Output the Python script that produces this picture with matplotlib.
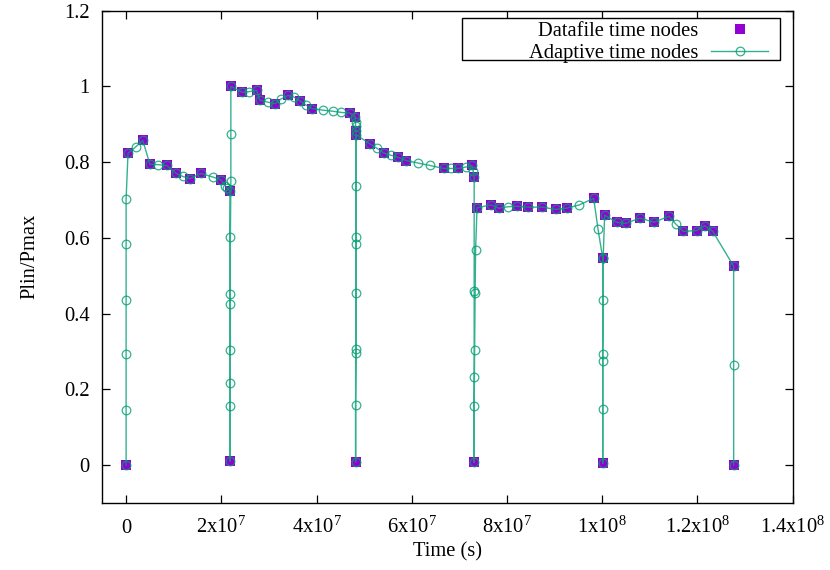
import numpy as np
import matplotlib
matplotlib.use("Agg")
import matplotlib.pyplot as plt
from matplotlib.patches import Rectangle

# ---- data (time in units of 1e6 s) ----
datafile_time_Ms = [0, 0.4, 3.5, 5.0, 8.5, 10.5, 13.4, 15.7, 19.9, 21.8, 21.8, 22.0,
                    24.4, 27.4, 28.1, 31.3, 34.0, 36.5, 39.1, 47.0, 48.1, 48.3, 48.2, 48.3,
                    51.2, 54.1, 57.0, 58.8, 66.7, 69.8, 72.6, 73.1, 73.1, 73.7,
                    76.6, 78.3, 82.1, 84.4, 87.4, 90.2, 92.5, 98.2, 100.1, 100.1, 100.5,
                    103.0, 104.9, 107.9, 110.9, 114.0, 117.0, 119.8, 121.5, 123.2, 127.6, 127.6]
datafile_plin = [0.0, 0.823, 0.857, 0.794, 0.791, 0.770, 0.756, 0.770, 0.753, 0.723, 0.011, 1.000,
                 0.984, 0.989, 0.963, 0.954, 0.976, 0.962, 0.941, 0.929, 0.920, 0.883, 0.009, 0.872,
                 0.848, 0.824, 0.813, 0.804, 0.783, 0.783, 0.791, 0.760, 0.007, 0.679,
                 0.687, 0.678, 0.683, 0.681, 0.681, 0.675, 0.678, 0.704, 0.546, 0.005, 0.660,
                 0.641, 0.638, 0.652, 0.641, 0.657, 0.617, 0.619, 0.632, 0.617, 0.525, 0.0]

adaptive_time_Ms = [0, 0, 0, 0, 0, 0, 0.4, 2.1, 3.5, 5.0, 6.8, 8.5, 10.5, 11.9, 13.4, 15.7, 18.3,
                    19.9, 20.8, 21.2, 21.8,
                    21.8, 21.8, 21.8,
                    21.8, 21.9, 21.9, 21.9, 22.0, 22.0, 22.0,
                    24.4, 25.9, 27.4, 28.1, 29.8, 31.3, 32.6, 34.0, 35.3, 36.5, 37.7, 39.1,
                    41.3, 43.5, 45.2, 47.0, 48.1, 48.2, 48.2, 48.3,
                    48.3, 48.2, 48.2,
                    48.2, 48.3, 48.3, 48.3, 48.3, 48.3,
                    51.2, 52.6, 54.1, 55.6, 57.0, 58.8, 61.4, 63.8, 66.7, 68.2, 69.8, 71.4,
                    72.6, 72.9, 73.1,
                    73.1, 73.1, 73.1,
                    73.1, 73.2, 73.3, 73.4, 73.7,
                    76.6, 78.3, 80.2, 82.1, 84.4, 87.4, 90.2, 92.5, 95.2, 98.2, 99.1, 100.1,
                    100.1, 100.1,
                    100.1, 100.1, 100.2, 100.2, 100.5,
                    103.0, 104.9, 107.9, 110.9, 114.0, 115.4, 117.0, 119.8, 121.5, 123.2,
                    127.6, 127.6, 127.6]
adaptive_plin = [0.0, 0.145, 0.292, 0.437, 0.584, 0.703, 0.823, 0.841, 0.857, 0.794, 0.793, 0.791,
                 0.770, 0.762, 0.756, 0.770, 0.760, 0.753, 0.738, 0.731, 0.723,
                 0.424, 0.217, 0.011,
                 0.157, 0.305, 0.452, 0.601, 0.749, 0.874, 1.000,
                 0.984, 0.986, 0.989, 0.963, 0.958, 0.954, 0.967, 0.976, 0.971, 0.962, 0.951, 0.941,
                 0.937, 0.934, 0.931, 0.929, 0.920, 0.905, 0.894, 0.883,
                 0.584, 0.295, 0.009,
                 0.158, 0.306, 0.453, 0.602, 0.736, 0.872,
                 0.848, 0.837, 0.824, 0.818, 0.813, 0.804, 0.797, 0.791, 0.783, 0.783, 0.783, 0.787,
                 0.791, 0.776, 0.760,
                 0.459, 0.233, 0.007,
                 0.156, 0.305, 0.453, 0.567, 0.679,
                 0.687, 0.678, 0.682, 0.683, 0.681, 0.681, 0.675, 0.678, 0.687, 0.704, 0.624, 0.546,
                 0.275, 0.005,
                 0.149, 0.292, 0.437, 0.548, 0.660,
                 0.641, 0.638, 0.652, 0.641, 0.657, 0.637, 0.617, 0.619, 0.632, 0.617,
                 0.525, 0.263, 0.0]

xtick_values = [0, 2e7, 4e7, 6e7, 8e7, 1e8, 1.2e8, 1.4e8]
xtick_labels = ["0", r"2x10$^{7}$", r"4x10$^{7}$", r"6x10$^{7}$", r"8x10$^{7}$",
                r"1x10$^{8}$", r"1.2x10$^{8}$", r"1.4x10$^{8}$"]
ytick_values = [0, 0.2, 0.4, 0.6, 0.8, 1.0, 1.2]
ytick_labels = ["0", "0.2", "0.4", "0.6", "0.8", "1", "1.2"]

# ---- style ----
plt.rcParams['font.family'] = ['Liberation Serif', 'DejaVu Serif']
plt.rcParams['mathtext.default'] = 'regular'
plt.rcParams['font.size'] = 14.8

W, H = 830, 570
AX_L, AX_R, AX_T, AX_B = 102.3, 792.7, 10.5, 503.0
fig = plt.figure(figsize=(W / 100, H / 100), dpi=100)
ax = fig.add_axes([AX_L / W, (H - AX_B) / H, (AX_R - AX_L) / W, (AX_B - AX_T) / H])

def ax_x(px):
    return (px - AX_L) / (AX_R - AX_L)

def ax_y(py):
    return (AX_B - py) / (AX_B - AX_T)

dt = np.array(datafile_time_Ms) * 1e6
at = np.array(adaptive_time_Ms) * 1e6

ax.plot(dt, datafile_plin, linestyle='none', marker='s', markersize=7.4,
        color='#9400d3', markeredgewidth=0, label='Datafile time nodes', zorder=2)
ax.plot(at, adaptive_plin, linestyle='-', linewidth=1.0, color='#009e73',
        marker='o', markersize=6.2, markerfacecolor='none', markeredgewidth=0.9,
        markeredgecolor='#009e73', label='Adaptive time nodes', zorder=3, alpha=0.8)

ax.set_xlim(-5e6, 1.4e8)
ax.set_ylim(-0.1, 1.2)
ax.set_xticks(xtick_values)
ax.set_xticklabels(xtick_labels, va='baseline')
ax.set_yticks(ytick_values)
ax.set_yticklabels(ytick_labels)
ax.tick_params(direction='in', length=5.5, width=0.9, top=True, right=True)
ax.tick_params(axis='x', pad=21.5)
ax.tick_params(axis='y', pad=9)
for s in ax.spines.values():
    s.set_linewidth(1.0)

ax.set_xlabel('Time (s)')
ax.set_ylabel('Plin/Pmax')
ax.xaxis.label.set_va('center')
ax.yaxis.label.set_va('center')
ax.xaxis.set_label_coords(0.5, ax_y(551.5))
ax.yaxis.set_label_coords(ax_x(30), 0.5)

# legend frame in gnuplot style (wide left margin)
frame = Rectangle((ax_x(462), ax_y(60)), ax_x(780) - ax_x(462), ax_y(18.3) - ax_y(60),
                  transform=ax.transAxes, facecolor='white', edgecolor='black',
                  linewidth=1.0, zorder=4.5, clip_on=False)
ax.add_patch(frame)
leg = ax.legend(loc='upper right', bbox_to_anchor=(ax_x(768), ax_y(21.5)),
                borderaxespad=0, markerfirst=False, frameon=False,
                handlelength=2.75, handletextpad=0.63,
                labelspacing=0.15, borderpad=0)
leg.set_zorder(5)

fig.savefig('out.png', dpi=100)
